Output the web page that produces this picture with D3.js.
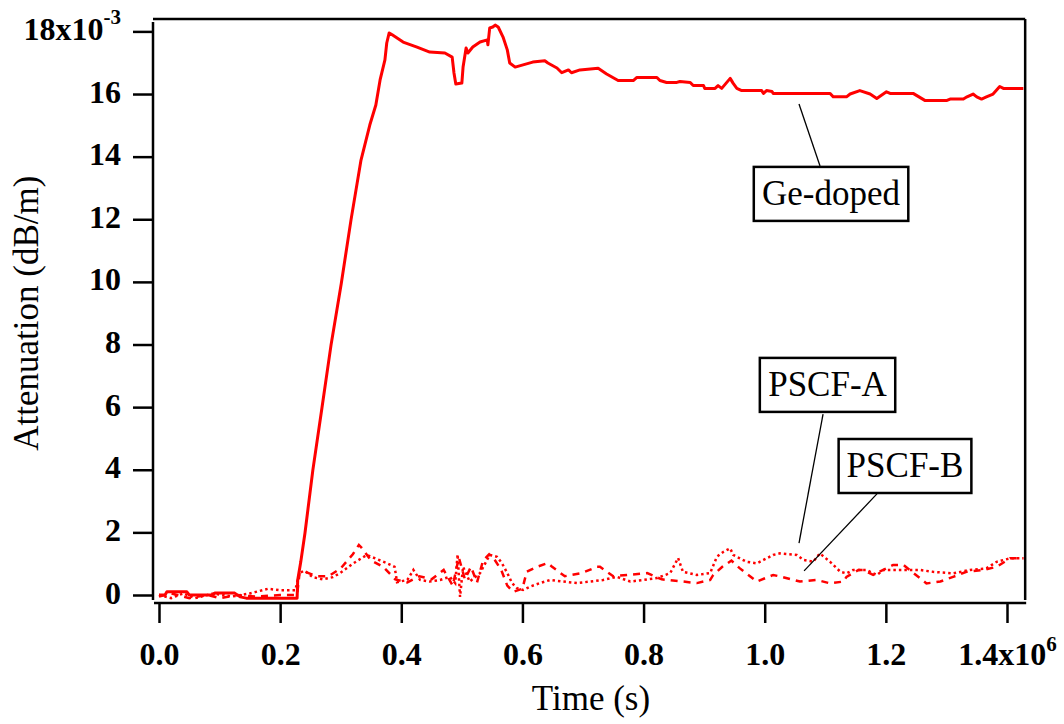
<!DOCTYPE html>
<html>
<head>
<meta charset="utf-8">
<script src="https://cdn.jsdelivr.net/npm/d3@7"></script>
<style>
  html, body { margin: 0; padding: 0; background: #fff; }
  svg { display: block; }
</style>
</head>
<body>
<svg id="chart" width="1064" height="724"></svg>
<script>
// ---------------- DATA ----------------
// time in units of 1e6 s, attenuation in units of 1e-3 dB/m
const timeTicks = [0.0, 0.2, 0.4, 0.6, 0.8, 1.0, 1.2, 1.4];
const attenTicks = [0, 2, 4, 6, 8, 10, 12, 14, 16, 18];
const xTitle = "Time (s)";
const yTitle = "Attenuation (dB/m)";

const geDoped = [
  [0.000,0.00],[0.010,0.00],[0.013,0.10],[0.046,0.10],[0.050,0.00],[0.089,0.00],[0.092,0.06],[0.125,0.06],
  [0.134,-0.06],[0.144,-0.10],[0.228,-0.10],
  [0.229,0.48],[0.234,1.05],[0.241,1.98],[0.254,3.99],[0.269,5.97],[0.284,7.98],[0.301,9.96],[0.317,11.98],
  [0.3335,13.89],[0.348,15.01],[0.358,15.65],[0.365,16.45],[0.373,17.09],[0.376,17.63],[0.380,17.95],
  [0.385,17.89],[0.403,17.66],[0.426,17.50],[0.447,17.34],[0.472,17.31],[0.484,17.18],[0.487,16.67],[0.490,16.32],
  [0.500,16.35],[0.502,16.86],[0.507,17.47],[0.510,17.31],[0.518,17.50],[0.530,17.66],[0.542,17.73],[0.543,17.57],
  [0.546,18.11],[0.551,18.14],[0.555,18.20],[0.560,18.14],[0.568,17.82],[0.575,17.41],[0.579,16.99],[0.588,16.86],
  [0.601,16.93],[0.617,17.02],[0.637,17.06],[0.642,16.99],[0.657,16.83],
  [0.665,16.68],[0.676,16.77],[0.681,16.68],[0.695,16.77],[0.725,16.82],[0.739,16.64],[0.758,16.43],[0.783,16.43],
  [0.789,16.53],[0.822,16.53],[0.827,16.43],[0.838,16.37],[0.855,16.37],[0.860,16.40],[0.877,16.37],[0.882,16.27],
  [0.899,16.27],[0.901,16.18],[0.918,16.18],[0.923,16.27],[0.929,16.18],[0.943,16.50],[0.948,16.34],[0.954,16.18],
  [0.962,16.11],[0.995,16.11],[0.998,16.02],[1.003,16.11],[1.012,16.08],[1.014,16.02],[1.108,16.02],[1.113,15.91],
  [1.135,15.91],[1.141,16.00],[1.157,16.11],[1.174,16.00],[1.185,15.86],[1.201,16.07],[1.207,16.02],[1.245,16.02],
  [1.265,15.79],[1.300,15.79],[1.306,15.84],[1.328,15.84],[1.334,15.91],[1.344,16.00],[1.350,15.91],[1.358,15.84],
  [1.366,15.91],[1.377,16.00],[1.388,16.24],[1.394,16.18],[1.427,16.18]
];

const pscfA = [
  [0.000,0.00],[0.020,-0.10],[0.040,0.05],[0.060,-0.10],[0.090,0.05],[0.120,-0.05],[0.150,0.05],[0.160,0.10],
  [0.180,0.20],[0.200,0.15],[0.225,0.15],[0.232,0.70],[0.240,0.78],[0.254,0.57],[0.270,0.50],[0.287,0.57],
  [0.299,0.70],[0.320,1.00],[0.343,1.28],[0.353,1.20],[0.376,1.02],[0.389,0.90],[0.393,0.41],[0.410,0.48],
  [0.420,0.80],[0.431,0.48],[0.447,0.43],[0.464,0.48],[0.480,0.58],[0.489,0.38],[0.493,1.30],[0.497,-0.06],
  [0.502,0.90],[0.513,0.43],[0.530,0.70],[0.546,1.28],[0.558,1.22],[0.566,1.02],[0.575,0.70],[0.583,0.38],
  [0.591,0.22],[0.601,0.16],[0.613,0.27],[0.629,0.38],[0.646,0.48],[0.667,0.43],[0.690,0.38],[0.712,0.43],
  [0.733,0.48],[0.756,0.58],[0.778,0.43],[0.799,0.48],[0.822,0.54],[0.844,0.70],[0.857,1.18],[0.865,0.74],
  [0.888,0.64],[0.910,0.70],[0.921,1.22],[0.932,1.38],[0.943,1.49],[0.948,1.28],[0.959,1.17],[0.970,1.06],
  [0.987,1.01],[0.998,1.12],[1.014,1.28],[1.025,1.33],[1.053,1.28],[1.064,1.12],[1.080,1.06],[1.091,1.33],
  [1.108,1.06],[1.125,0.74],[1.135,0.69],[1.146,0.80],[1.168,0.80],[1.185,0.64],[1.196,0.80],[1.223,0.80],
  [1.245,0.80],[1.256,0.80],[1.278,0.74],[1.311,0.69],[1.339,0.80],[1.366,0.85],[1.383,1.06],[1.405,1.17],
  [1.427,1.17]
];

const pscfB = [
  [0.000,-0.05],[0.020,0.05],[0.050,-0.10],[0.080,0.00],[0.100,-0.10],[0.130,0.00],[0.160,-0.05],[0.200,0.00],
  [0.228,0.00],[0.232,0.70],[0.240,0.75],[0.260,0.60],[0.280,0.60],[0.300,0.85],[0.320,1.30],[0.330,1.60],
  [0.335,1.50],[0.350,1.10],[0.370,0.90],[0.390,0.50],[0.410,0.40],[0.430,0.60],[0.450,0.50],[0.470,0.80],
  [0.485,0.30],[0.495,1.20],[0.505,0.50],[0.515,0.90],[0.525,0.40],[0.535,1.10],[0.545,1.30],[0.555,1.10],
  [0.565,0.80],[0.575,0.30],[0.585,0.10],[0.600,0.20],[0.607,0.74],[0.624,0.90],[0.642,1.02],[0.649,0.90],
  [0.670,0.60],[0.698,0.70],[0.723,0.90],[0.728,0.90],[0.750,0.60],[0.773,0.64],[0.806,0.70],[0.830,0.50],
  [0.865,0.43],[0.888,0.38],[0.910,0.48],[0.915,0.64],[0.930,0.90],[0.945,1.10],[0.959,0.85],[0.987,0.43],
  [1.014,0.64],[1.028,0.58],[1.058,0.43],[1.086,0.48],[1.108,0.37],[1.130,0.43],[1.135,0.58],[1.155,0.80],
  [1.163,0.80],[1.179,0.64],[1.212,0.96],[1.229,0.96],[1.267,0.37],[1.290,0.43],[1.311,0.58],[1.333,0.74],
  [1.361,0.80],[1.383,0.90],[1.405,1.17],[1.427,1.17]
];

// annotation labels: box centre, leader start, leader tip (data units)
const annotLabels = ["Ge-doped", "PSCF-A", "PSCF-B"];
const annotBox    = [[1.1095, 12.81], [1.1037, 6.71], [1.2316, 4.12]];
const annotFrom   = [[1.0913, 13.70], [1.0963, 5.78], [1.1853, 3.23]];
const annotTip    = [[1.0566, 15.68], [1.0566, 1.66], [1.0650, 0.77]];

// ---------------- CHART ----------------
const svg = d3.select("#chart");
const FONT = "'Liberation Serif', 'Times New Roman', serif";

const x = d3.scaleLinear().domain([0, 1.4]).range([159, 1007]);
const y = d3.scaleLinear().domain([0, 18]).range([595, 31.4]);

const xMin = -0.0099, xMax = 1.43;   // axis extents
const yBottomAxis = -0.255, yLeftEnd = -0.16, yTop = 18.4, yLeftTop = 18.3;

// plot frame (top & right)
svg.append("line").attr("x1", x(xMin)).attr("x2", x(xMax)).attr("y1", y(yTop)).attr("y2", y(yTop))
  .attr("stroke", "#000").attr("stroke-width", 2.5);
svg.append("line").attr("x1", x(xMax)).attr("x2", x(xMax)).attr("y1", y(yTop)).attr("y2", y(yLeftEnd))
  .attr("stroke", "#000").attr("stroke-width", 2.5);

// left axis
const yAxis = d3.axisLeft(y).tickValues(attenTicks).tickSize(20).tickPadding(12)
  .tickFormat(d => d3.format("d")(d));
const gy = svg.append("g").attr("transform", `translate(${x(xMin)},0)`).call(yAxis);
gy.select(".domain").remove();
gy.append("line").attr("x1", 0).attr("x2", 0).attr("y1", y(yLeftTop)).attr("y2", y(yLeftEnd))
  .attr("stroke", "#000").attr("stroke-width", 2.5);
gy.selectAll(".tick line").attr("stroke", "#000").attr("stroke-width", 2.5);
gy.selectAll(".tick text").attr("font-family", FONT).attr("font-weight", "bold")
  .attr("font-size", 32).attr("fill", "#000").attr("dy", "0.25em");
gy.selectAll(".tick text").filter(d => d === 18).text("18x10")
  .append("tspan").attr("font-size", 21).attr("dy", -16).text("-3");

// bottom axis
const xAxis = d3.axisBottom(x).tickValues(timeTicks).tickSize(20).tickPadding(19)
  .tickFormat(d3.format(".1f"));
const gx = svg.append("g").attr("transform", `translate(0,${y(yBottomAxis)})`).call(xAxis);
gx.select(".domain").remove();
gx.append("line").attr("x1", x(xMin) + 1).attr("x2", x(xMax) + 1).attr("y1", 0).attr("y2", 0)
  .attr("stroke", "#000").attr("stroke-width", 2.5);
gx.selectAll(".tick line").attr("stroke", "#000").attr("stroke-width", 2.5);
gx.selectAll(".tick text").attr("font-family", FONT).attr("font-weight", "bold")
  .attr("font-size", 32).attr("fill", "#000");
gx.selectAll(".tick text").filter(d => d === 1.4).text("1.4x10")
  .append("tspan").attr("font-size", 21).attr("dy", -14).text("6");

// axis titles
svg.append("text").attr("x", (x(0) + x(1.4)) / 2 + 8).attr("y", 710)
  .attr("text-anchor", "middle").attr("font-family", FONT).attr("font-size", 35).text(xTitle);
svg.append("text").attr("transform", `translate(38,${(y(0) + y(18)) / 2}) rotate(-90)`)
  .attr("text-anchor", "middle").attr("font-family", FONT).attr("font-size", 35).text(yTitle);

// data lines
const line = d3.line().x(d => x(d[0])).y(d => y(d[1]));
svg.append("path").datum(pscfB).attr("d", line).attr("fill", "none")
  .attr("stroke", "#ff0000").attr("stroke-width", 2.5).attr("stroke-dasharray", "7,6");
svg.append("path").datum(pscfA).attr("d", line).attr("fill", "none")
  .attr("stroke", "#ff0000").attr("stroke-width", 2.5).attr("stroke-dasharray", "2.5,3");
svg.append("path").datum(geDoped).attr("d", line).attr("fill", "none")
  .attr("stroke", "#ff0000").attr("stroke-width", 3).attr("stroke-linejoin", "round");

// annotations
annotLabels.forEach((lab, i) => {
  svg.append("line")
    .attr("x1", x(annotFrom[i][0])).attr("y1", y(annotFrom[i][1]))
    .attr("x2", x(annotTip[i][0])).attr("y2", y(annotTip[i][1]))
    .attr("stroke", "#000").attr("stroke-width", 1.3);
  const g = svg.append("g");
  const cx = x(annotBox[i][0]), cy = y(annotBox[i][1]);
  const t = g.append("text").attr("x", cx).attr("y", cy + 11)
    .attr("text-anchor", "middle").attr("font-family", FONT).attr("font-size", 35).text(lab);
  const bb = t.node().getBBox();
  const w = bb.width + 16, h = 54;
  g.insert("rect", "text").attr("x", cx - w / 2).attr("y", cy - h / 2).attr("width", w).attr("height", h)
    .attr("fill", "#fff").attr("stroke", "#000").attr("stroke-width", 2.5);
});
</script>
</body>
</html>
